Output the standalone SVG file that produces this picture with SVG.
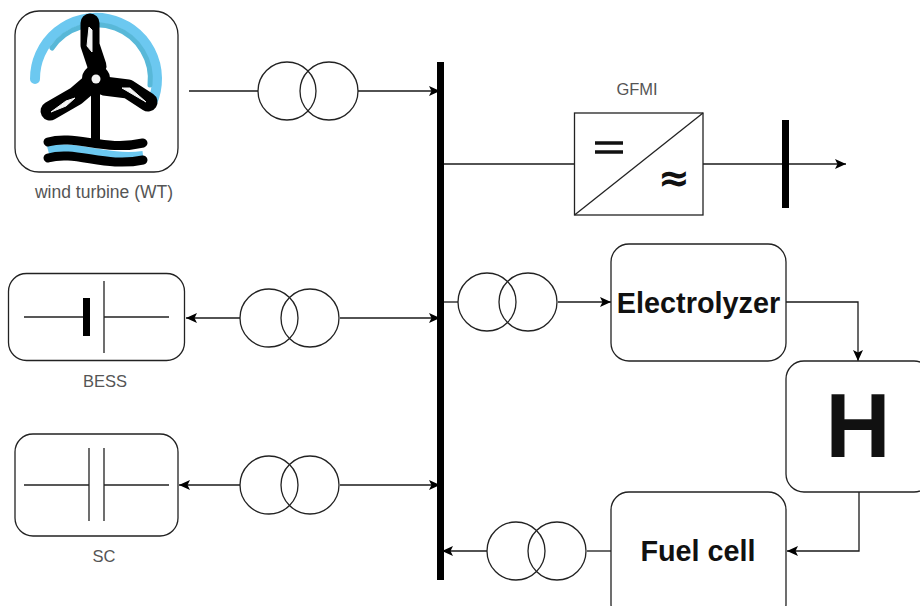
<svg xmlns="http://www.w3.org/2000/svg" width="920" height="606" viewBox="0 0 920 606">
<style>
.l{fill:none;stroke:#1a1a1a;stroke-width:1.3}
.b{fill:#fff;stroke:#222;stroke-width:1.3}
.c{fill:none;stroke:#222;stroke-width:1.3}
.cap{font-family:"Liberation Sans",Arial,sans-serif;font-size:16.500px;fill:#555;text-anchor:middle}
.big{font-family:"Liberation Sans",Arial,sans-serif;font-weight:bold;fill:#111;text-anchor:middle}
.t{fill:none;stroke:#000;stroke-width:9;stroke-linecap:round;stroke-linejoin:round}
.bl{fill:none;stroke:#000;stroke-width:19;stroke-linecap:round;stroke-linejoin:round}
.s{fill:none;stroke:#6cc8f0;stroke-linecap:round}
.w{fill:#f4f4f4;stroke:#f4f4f4;stroke-width:1;stroke-linejoin:round}
</style>
<defs><marker id="a" markerWidth="12" markerHeight="12" refX="11" refY="6" orient="auto" markerUnits="userSpaceOnUse"><path d="M0 1L11 6L0 11L2.500 6Z" fill="#000"/></marker></defs>
<g id="connectors">
<path class="l" d="M189 91H258M358 91H440" marker-end="url(#a)"/>
<path class="l" d="M440 164H574"/>
<path class="l" d="M703 164H846" marker-end="url(#a)"/>
<path class="l" d="M340 318H440" marker-end="url(#a)"/>
<path class="l" d="M240 318H186" marker-end="url(#a)"/>
<path class="l" d="M340 485H440" marker-end="url(#a)"/>
<path class="l" d="M240 485H179" marker-end="url(#a)"/>
<path class="l" d="M440 302H458"/>
<path class="l" d="M558 302H611" marker-end="url(#a)"/>
<path class="l" d="M786 302H858V361" marker-end="url(#a)"/>
<path class="l" d="M859 492V551H787" marker-end="url(#a)"/>
<path class="l" d="M611 551H587"/>
<path class="l" d="M487 551H442" marker-end="url(#a)"/>
</g>
<g id="bus"><rect x="437" y="62" width="7" height="518" fill="#000"/></g>
<g id="wt">
<rect class="b" x="15" y="11" width="163" height="161" rx="24"/>
<path class="s" stroke-width="10" d="M35 79A61 61 0 1 1 152 103"/>
<path fill="none" stroke="#58b8d8" stroke-width="5" stroke-linecap="round" d="M52 48A54 54 0 0 1 150 85"/>
<path class="t" d="M95.500 80V140"/>
<path class="bl" d="M90 23V45L97 66"/>
<path class="bl" d="M50 111L76 96L90 84"/>
<path class="bl" d="M104 86L128 89L148 102"/>
<circle cx="96" cy="79" r="14" fill="#000"/>
<circle cx="96" cy="79" r="4.500" fill="#f4f4f4"/>
<path class="w" d="M89 27L92 30L92 52L87 46Z"/>
<path class="w" d="M51 112L66 101L75 98L66 106Z"/>
<path class="w" d="M122 88L130 88L146 102Z"/>
<path fill="none" stroke="#6cc8f0" stroke-width="8" d="M48 150C75 143 105 160 143 155"/>
<path class="t" d="M48 142C75 134 105 152 143 143"/>
<path class="t" d="M48 158C75 150 105 168 143 160"/>
<text class="cap" x="104" y="198" style="font-size:17.500px">wind turbine (WT)</text>
</g>
<g id="t1"><circle class="c" cx="287" cy="91" r="29"/><circle class="c" cx="329" cy="91" r="29"/></g>
<g id="t2"><circle class="c" cx="269" cy="318" r="29"/><circle class="c" cx="310" cy="318" r="29"/></g>
<g id="t3"><circle class="c" cx="269" cy="485" r="29"/><circle class="c" cx="310" cy="485" r="29"/></g>
<g id="t4"><circle class="c" cx="487" cy="302" r="29"/><circle class="c" cx="528" cy="302" r="29"/></g>
<g id="t5"><circle class="c" cx="516" cy="551" r="29"/><circle class="c" cx="557" cy="551" r="29"/></g>
<g id="gfmi">
<rect class="b" x="574.500" y="113" width="128.500" height="102"/>
<path class="c" d="M574.500 215L703 113"/>
<path d="M595 143H623M595 152H623" stroke="#111" stroke-width="3.500" fill="none"/>
<text x="674" y="191" font-family="'DejaVu Sans',sans-serif" font-size="38" font-weight="bold" text-anchor="middle" fill="#111">≈</text>
<text class="cap" x="637" y="95">GFMI</text>
</g>
<g id="load-bus"><rect x="782" y="120" width="7" height="88" fill="#000"/></g>
<g id="bess">
<rect class="b" x="8.500" y="273.500" width="176" height="87" rx="18"/>
<path class="c" d="M24 317H83M104 317H169M104 281V353"/>
<rect x="83" y="298" width="7" height="38" fill="#000"/>
<text class="cap" x="105" y="387">BESS</text>
</g>
<g id="sc">
<rect class="b" x="15" y="434" width="163" height="102" rx="18"/>
<path class="c" d="M24 485H89M104 485H169M89 448V521M104 448V521"/>
<text class="cap" x="104" y="562">SC</text>
</g>
<g id="electrolyzer"><rect class="b" x="611" y="244" width="175" height="117" rx="18"/><text class="big" x="698.500" y="313" font-size="28.800">Electrolyzer</text></g>
<g id="h"><rect class="b" x="786" y="361" width="146" height="131" rx="18"/><text class="big" x="858" y="457" font-size="90">H</text></g>
<g id="fuel-cell"><rect class="b" x="611" y="492" width="175" height="130" rx="18"/><text class="big" x="698" y="561" font-size="28.800">Fuel cell</text></g>
</svg>
